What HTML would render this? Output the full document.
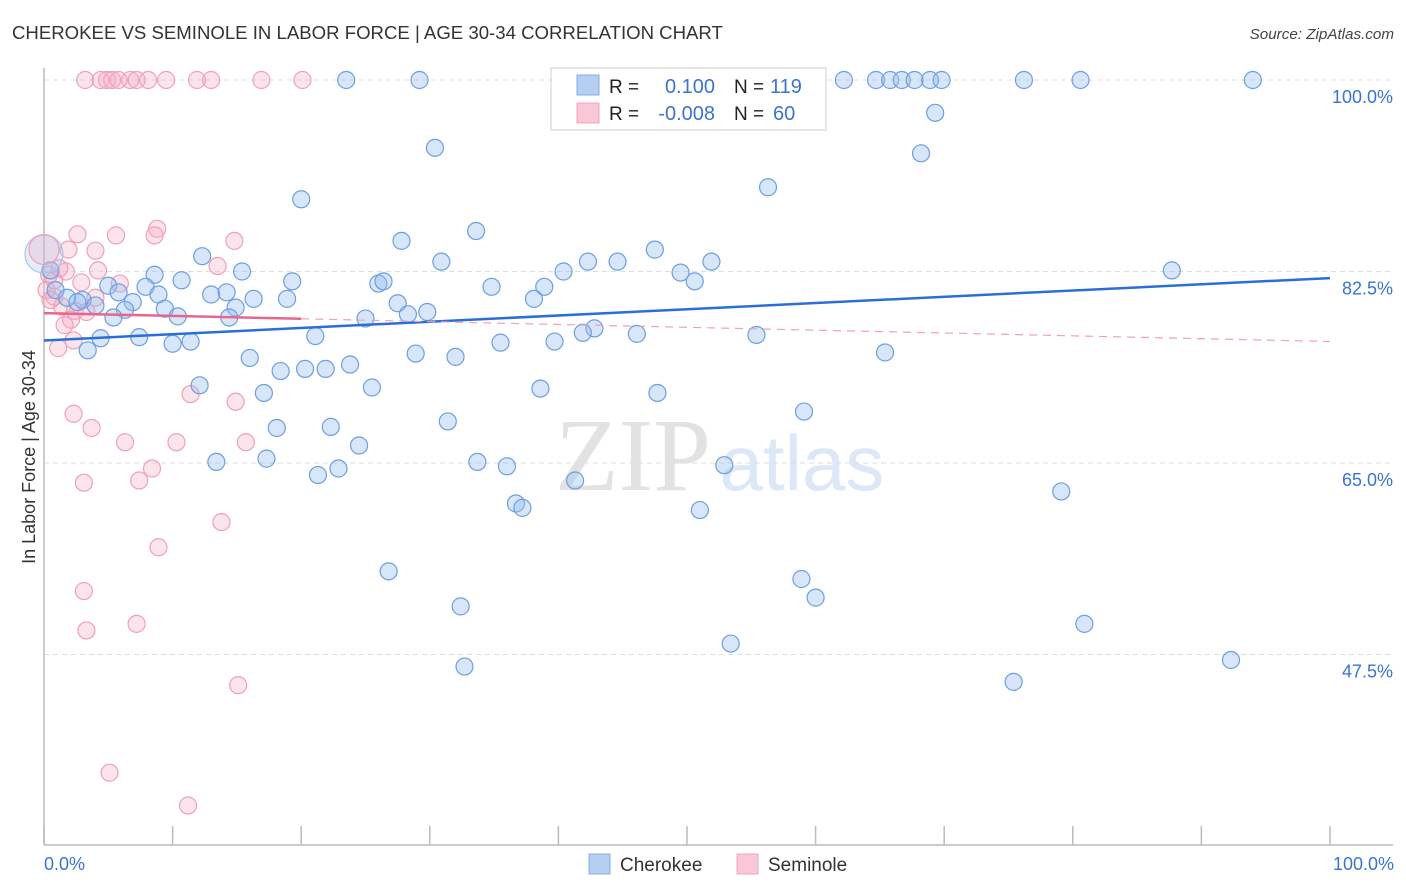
<!DOCTYPE html>
<html><head><meta charset="utf-8"><style>
body{margin:0;background:#fff;}
svg{display:block;font-family:"Liberation Sans",sans-serif;}
</style></head><body>
<svg id="chart" width="1406" height="892">
<text x="12" y="39" font-size="18.6" fill="#333">CHEROKEE VS SEMINOLE IN LABOR FORCE | AGE 30-34 CORRELATION CHART</text>
<text x="1394" y="39" font-size="15.2" fill="#444" font-style="italic" text-anchor="end">Source: ZipAtlas.com</text>
<text x="633" y="490" font-size="104" fill="#e2e2e2" text-anchor="middle" font-family="Liberation Serif,serif">ZIP</text>
<text x="802" y="490" font-size="78" fill="#dce8f7" text-anchor="middle">atlas</text>
<g id="grid"></g>
<g id="axes"></g>
<g id="pts"></g>
<g id="trend"></g>
<text transform="translate(35,457) rotate(-90)" font-size="18" fill="#333" text-anchor="middle">In Labor Force | Age 30-34</text>
<text x="44" y="870" font-size="18" fill="#3a74d0">0.0%</text>
<text x="1394" y="870" font-size="18" fill="#3a74d0" text-anchor="end">100.0%</text>
<g>
<rect x="551" y="68" width="275" height="62" fill="#fff" stroke="#ccc"/>
<rect x="577" y="75" width="22" height="20" fill="#b5cff3" stroke="#85aee6"/>
<rect x="577" y="103" width="22" height="20" fill="#f9c7d5" stroke="#f0a5bb"/>
<text x="609" y="93" font-size="19" fill="#222">R = </text><text x="715" y="93" font-size="20" fill="#3a74d0" text-anchor="end">0.100</text>
<text x="734" y="93" font-size="19" fill="#222">N = </text><text x="770" y="93" font-size="20" fill="#3a74d0">119</text>
<text x="609" y="120" font-size="19" fill="#222">R = </text><text x="715" y="120" font-size="20" fill="#3a74d0" text-anchor="end">-0.008</text>
<text x="734" y="120" font-size="19" fill="#222">N = </text><text x="773" y="120" font-size="20" fill="#3a74d0">60</text>
</g>
<g>
<rect x="589" y="854" width="21" height="20" fill="#b5cff3" stroke="#85aee6"/>
<text x="620" y="871" font-size="19" fill="#333">Cherokee</text>
<rect x="737" y="854" width="21" height="20" fill="#f9c7d5" stroke="#f0a5bb"/>
<text x="768" y="871" font-size="19" fill="#333">Seminole</text>
</g>
</svg>
<script>
const yTicks=[100,82.5,65,47.5];
const yTickLabels=["100.0%","82.5%","65.0%","47.5%"];
const xTicks=[0,10,20,30,40,50,60,70,80,90,100];
const cherokeeX=[23.5,29.2,43.9,50.1,56.9,62.2,64.7,65.8,66.7,67.7,68.9,69.8,76.2,80.6,94.0,69.3,30.4,68.2,56.3,20.0,33.6,27.8,47.5,12.3,30.9,42.3,44.6,51.9,87.7,0.5,15.4,8.6,10.7,49.5,19.3,26.0,26.4,50.6,34.8,38.9,40.4,5.0,7.9,5.8,8.9,13.0,14.2,16.3,18.9,38.1,6.9,3.0,4.0,27.5,9.4,6.3,14.9,28.3,29.8,10.4,5.4,14.4,25.0,42.8,41.9,4.4,7.4,10.0,11.4,21.1,46.1,55.4,35.5,39.7,3.4,16.0,28.9,32.0,65.4,23.8,18.4,20.3,21.9,25.5,12.1,17.1,38.6,47.7,59.1,31.4,18.1,22.3,24.5,13.4,17.3,22.9,21.3,33.7,36.0,52.9,41.3,79.1,36.7,37.2,51.0,26.8,58.9,60.0,32.4,80.9,53.4,92.3,32.7,75.4,0.9,1.8,2.6];
const cherokeeY=[100,100,100,100,100,100,100,100,100,100,100,100,100,100,100,97.0,93.8,93.3,90.2,89.1,86.2,85.3,84.5,83.9,83.4,83.4,83.4,83.4,82.6,82.6,82.5,82.2,81.7,82.4,81.6,81.4,81.6,81.6,81.1,81.1,82.5,81.2,81.1,80.6,80.4,80.4,80.6,80.0,80.0,80.0,79.7,79.9,79.4,79.6,79.1,79.0,79.2,78.6,78.8,78.4,78.3,78.3,78.2,77.3,76.9,76.4,76.5,75.9,76.1,76.6,76.8,76.7,76.0,76.1,75.3,74.6,75.0,74.7,75.1,74.0,73.4,73.6,73.6,71.9,72.1,71.4,71.8,71.4,69.7,68.8,68.2,68.3,66.6,65.1,65.4,64.5,63.9,65.1,64.7,64.8,63.4,62.4,61.3,60.9,60.7,55.1,54.4,52.7,51.9,50.3,48.5,47.0,46.4,45.0,80.8,80.1,79.7];
const seminoleX=[3.2,4.4,4.9,5.3,5.8,6.7,7.2,8.1,9.5,11.9,13.0,16.9,20.1,8.8,2.6,5.6,8.6,14.8,1.9,4.0,13.5,4.2,0.4,1.7,5.9,2.9,0.8,4.0,1.4,2.4,3.3,2.1,1.6,2.3,1.1,11.4,14.9,2.3,3.7,6.3,10.3,15.7,8.4,3.1,7.4,13.8,8.9,3.1,7.2,3.3,15.1,5.1,11.2,0.2,0.8,1.2,0.5];
const seminoleY=[100,100,100,100,100,100,100,100,100,100,100,100,100,86.4,85.9,85.8,85.8,85.3,84.5,84.4,83.0,82.6,82.2,82.5,81.4,81.5,80.2,80.1,79.3,78.9,78.8,78.1,77.6,76.2,75.5,71.3,70.6,69.5,68.2,66.9,66.9,66.9,64.5,63.2,63.4,59.6,57.3,53.3,50.3,49.7,44.7,36.7,33.7,80.8,81.7,82.8,79.9];
const bigPoints=[{x:0,y:84.1,s:"c"},{x:0,y:84.5,s:"s"}];
const cherokeeTrend=[76.2,81.9];
const seminoleTrend=[78.7,76.1];
const seminoleSolidEnd=20;

const NS="http://www.w3.org/2000/svg";
const X0=44,X1=1330,YTOP=80,PXPERPCT=10.943;
function sx(v){return X0+(X1-X0)*v/100;}
function sy(v){return YTOP+(100-v)*PXPERPCT;}
function mk(tag,attrs,parent){const e=document.createElementNS(NS,tag);for(const k in attrs)e.setAttribute(k,attrs[k]);parent.appendChild(e);return e;}
const grid=document.getElementById('grid'),axes=document.getElementById('axes'),pts=document.getElementById('pts'),trend=document.getElementById('trend');
yTicks.forEach((t,i)=>{
  const l=mk('line',{x1:X0,x2:1393,y1:sy(t),y2:sy(t),stroke:'#ddd','stroke-dasharray':'5,4'},grid);
  
  
  const tx=mk('text',{x:1393,y:sy(t)+23,'font-size':18,fill:'#3a74d0','text-anchor':'end'},grid);
  tx.textContent=yTickLabels[i];
  
  
});
const ya=mk('line',{x1:X0,x2:X0,y1:68,y2:845,stroke:'#bbb','stroke-width':1.5},axes);


const xa=mk('line',{x1:X0,x2:1393,y1:845,y2:845,stroke:'#bbb','stroke-width':1.5},axes);


xTicks.forEach(t=>{
  const l=mk('line',{x1:sx(t),x2:sx(t),y1:826,y2:845,stroke:'#bbb','stroke-width':1.5},axes);
  
  
});
function dot(x,y,r,s,big){
  const fc=s==='c'?(big?'rgba(170,200,240,0.3)':'rgba(150,190,238,0.38)'):(big?'rgba(230,170,200,0.3)':'rgba(246,170,192,0.32)');
  const c=mk('circle',{cx:sx(x),cy:sy(y),r:r,fill:fc,stroke:s==='c'?(big?'#a8c6ee':'#6d9fe0'):'#f0a0b8','stroke-width':1.2},pts);
  
  
}
seminoleX.forEach((x,i)=>dot(x,seminoleY[i],8.5,'s',false));
cherokeeX.forEach((x,i)=>dot(x,cherokeeY[i],8.5,'c',false));
bigPoints.forEach(p=>dot(p.x,p.y,p.s==='c'?19:15,p.s,true));
const bt=mk('line',{x1:sx(0),x2:sx(100),y1:sy(cherokeeTrend[0]),y2:sy(cherokeeTrend[1]),stroke:'#2a6fd6','stroke-width':2.5},trend);


const sAt=v=>seminoleTrend[0]+(seminoleTrend[1]-seminoleTrend[0])*v/100;
const pt=mk('line',{x1:sx(0),x2:sx(seminoleSolidEnd),y1:sy(sAt(0)),y2:sy(sAt(seminoleSolidEnd)),stroke:'#e8658e','stroke-width':2.5},trend);


const pd=mk('line',{x1:sx(seminoleSolidEnd),x2:sx(100),y1:sy(sAt(seminoleSolidEnd)),y2:sy(sAt(100)),stroke:'#eea0b8','stroke-width':1.2,'stroke-dasharray':'8,6'},trend);


</script>
</body></html>
